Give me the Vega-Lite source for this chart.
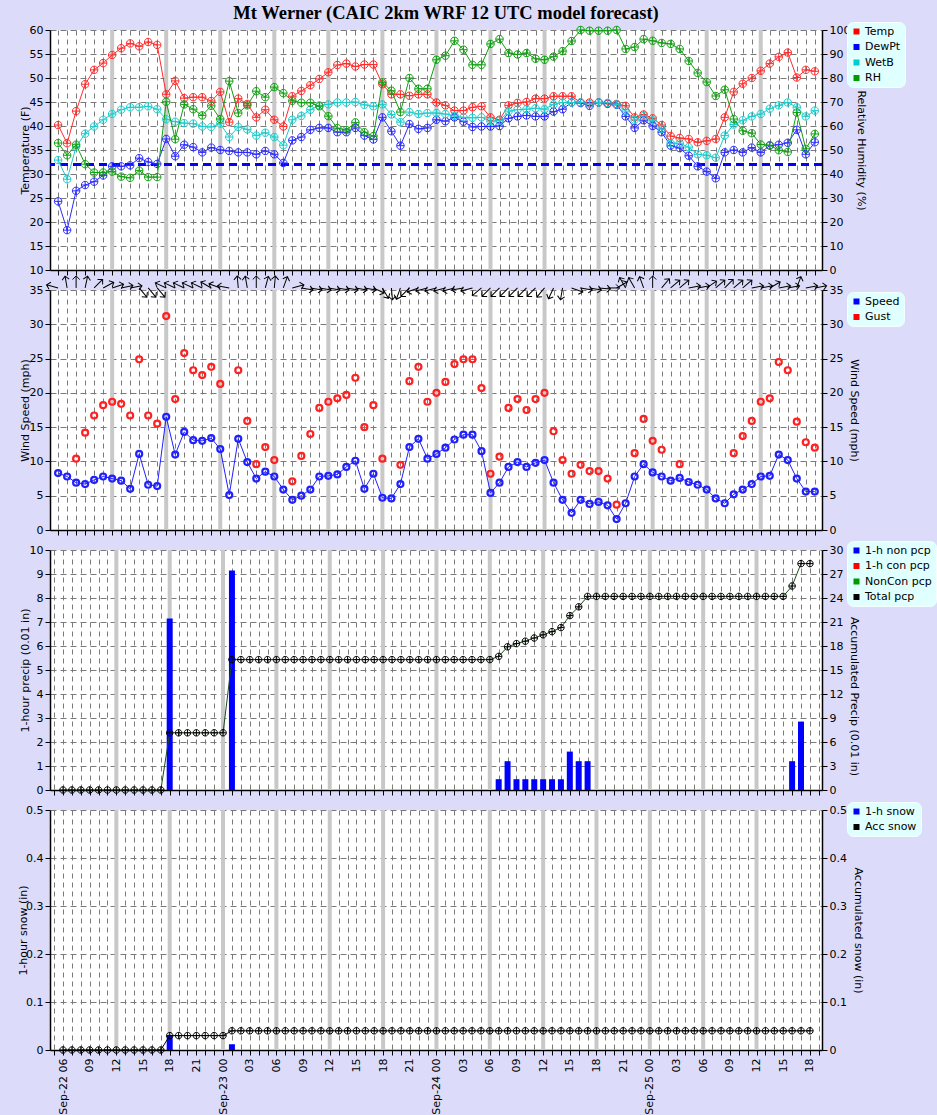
{
"$schema":"https://vega.github.io/schema/vega-lite/v6.json",
"background":"#dcdcfa",
"autosize":{"type":"none"},
"padding":{"left":50,"top":30,"right":887,"bottom":1085},
"bounds":"flush",
"spacing":20,
"resolve":{"scale":{"color":"independent"},"legend":{"color":"independent"}},
"config":{
 "font":"DejaVu Sans",
 "view":{"fill":"#ffffff","stroke":null},
 "axis":{"labelFontSize":11,"titleFontSize":11,"titleFontWeight":"normal","labelColor":"#000000","titleColor":"#000000","domainColor":"#000000","tickColor":"#000000","domainWidth":1.5,"tickWidth":1,"tickSize":5,"labelPadding":2,"gridColor":"#7a7a7a","gridDash":[6,4]},
 "legend":{"labelFontSize":11,"labelFont":"DejaVu Sans","labelColor":"#000000","symbolSize":36,"symbolType":"square","padding":4,"rowPadding":3.5,"fillColor":"#e0ffff","strokeColor":"#f4ffff","cornerRadius":6,"labelOffset":3,"orient":"none","legendX":797}
},
"datasets":{
"sixes":[{"h":6},{"h":12},{"h":18},{"h":24},{"h":30},{"h":36},{"h":42},{"h":48},{"h":54},{"h":60},{"h":66},{"h":72},{"h":78}],
"met":[
{"h":0,"Temp":40.2,"DewPt":24.3,"WetB":32.9,"RH":52.9},
{"h":1,"Temp":36.4,"DewPt":18.3,"WetB":28.9,"RH":47.8},
{"h":2,"Temp":43.1,"DewPt":26.5,"WetB":35.7,"RH":52.2},
{"h":3,"Temp":48.7,"DewPt":27.7,"WetB":38.4,"RH":44.1},
{"h":4,"Temp":51.7,"DewPt":28.4,"WetB":39.9,"RH":40.6},
{"h":5,"Temp":53.1,"DewPt":29.7,"WetB":41.3,"RH":40.6},
{"h":6,"Temp":54.8,"DewPt":31.6,"WetB":42.5,"RH":41.0},
{"h":7,"Temp":56.2,"DewPt":31.6,"WetB":43.4,"RH":38.9},
{"h":8,"Temp":57.2,"DewPt":31.8,"WetB":43.9,"RH":38.4},
{"h":9,"Temp":56.6,"DewPt":33.3,"WetB":43.9,"RH":41.4},
{"h":10,"Temp":57.5,"DewPt":32.5,"WetB":44.1,"RH":38.7},
{"h":11,"Temp":56.9,"DewPt":32.1,"WetB":43.5,"RH":38.7},
{"h":12,"Temp":46.6,"DewPt":37.3,"WetB":41.4,"RH":70.1},
{"h":13,"Temp":49.4,"DewPt":33.7,"WetB":40.9,"RH":54.5},
{"h":14,"Temp":45.8,"DewPt":36.1,"WetB":40.6,"RH":69.0},
{"h":15,"Temp":46.0,"DewPt":35.6,"WetB":40.5,"RH":67.0},
{"h":16,"Temp":46.0,"DewPt":34.5,"WetB":39.9,"RH":64.4},
{"h":17,"Temp":45.2,"DewPt":35.5,"WetB":39.8,"RH":68.4},
{"h":18,"Temp":47.1,"DewPt":35.0,"WetB":40.5,"RH":62.9},
{"h":19,"Temp":40.8,"DewPt":34.8,"WetB":37.7,"RH":78.7},
{"h":20,"Temp":45.7,"DewPt":34.5,"WetB":39.8,"RH":65.4},
{"h":21,"Temp":44.6,"DewPt":34.5,"WetB":39.3,"RH":68.6},
{"h":22,"Temp":41.8,"DewPt":34.1,"WetB":38.0,"RH":74.5},
{"h":23,"Temp":43.4,"DewPt":34.8,"WetB":38.6,"RH":72.0},
{"h":24,"Temp":41.3,"DewPt":34.1,"WetB":37.7,"RH":76.2},
{"h":25,"Temp":39.9,"DewPt":32.3,"WetB":36.0,"RH":73.7},
{"h":26,"Temp":46.2,"DewPt":37.0,"WetB":41.3,"RH":70.5},
{"h":27,"Temp":47.3,"DewPt":37.7,"WetB":42.1,"RH":69.7},
{"h":28,"Temp":48.5,"DewPt":39.2,"WetB":43.4,"RH":69.7},
{"h":29,"Temp":49.8,"DewPt":39.6,"WetB":44.3,"RH":68.2},
{"h":30,"Temp":51.2,"DewPt":39.6,"WetB":44.5,"RH":64.1},
{"h":31,"Temp":52.7,"DewPt":38.7,"WetB":44.9,"RH":59.1},
{"h":32,"Temp":53.0,"DewPt":38.7,"WetB":44.9,"RH":58.3},
{"h":33,"Temp":52.4,"DewPt":39.6,"WetB":45.0,"RH":61.5},
{"h":34,"Temp":52.8,"DewPt":38.0,"WetB":44.4,"RH":57.4},
{"h":35,"Temp":52.8,"DewPt":37.2,"WetB":44.1,"RH":55.8},
{"h":36,"Temp":48.7,"DewPt":41.8,"WetB":44.5,"RH":78.2},
{"h":37,"Temp":46.6,"DewPt":38.9,"WetB":42.4,"RH":74.7},
{"h":38,"Temp":46.6,"DewPt":35.9,"WetB":40.8,"RH":65.8},
{"h":39,"Temp":46.3,"DewPt":40.4,"WetB":42.9,"RH":80.0},
{"h":40,"Temp":46.6,"DewPt":39.4,"WetB":42.5,"RH":75.5},
{"h":41,"Temp":46.6,"DewPt":39.6,"WetB":42.7,"RH":75.5},
{"h":42,"Temp":44.9,"DewPt":41.3,"WetB":42.7,"RH":87.6},
{"h":43,"Temp":44.3,"DewPt":41.0,"WetB":42.5,"RH":89.3},
{"h":44,"Temp":43.2,"DewPt":41.8,"WetB":42.1,"RH":95.5},
{"h":45,"Temp":43.2,"DewPt":40.9,"WetB":41.8,"RH":91.8},
{"h":46,"Temp":43.9,"DewPt":39.8,"WetB":41.7,"RH":85.5},
{"h":47,"Temp":44.1,"DewPt":39.9,"WetB":41.8,"RH":85.5},
{"h":48,"Temp":41.8,"DewPt":39.9,"WetB":41.0,"RH":94.2},
{"h":49,"Temp":41.3,"DewPt":40.0,"WetB":41.1,"RH":96.2},
{"h":50,"Temp":44.3,"DewPt":41.6,"WetB":43.1,"RH":90.4},
{"h":51,"Temp":44.8,"DewPt":42.0,"WetB":43.4,"RH":89.8},
{"h":52,"Temp":45.0,"DewPt":42.2,"WetB":43.5,"RH":90.4},
{"h":53,"Temp":45.7,"DewPt":42.0,"WetB":43.7,"RH":88.0},
{"h":54,"Temp":45.7,"DewPt":42.0,"WetB":43.5,"RH":87.6},
{"h":55,"Temp":46.2,"DewPt":43.0,"WetB":44.5,"RH":88.9},
{"h":56,"Temp":46.2,"DewPt":43.5,"WetB":44.9,"RH":91.2},
{"h":57,"Temp":46.2,"DewPt":44.9,"WetB":44.9,"RH":95.4},
{"h":58,"Temp":44.9,"DewPt":44.8,"WetB":44.9,"RH":100},
{"h":59,"Temp":44.9,"DewPt":44.2,"WetB":44.6,"RH":99.7},
{"h":60,"Temp":44.9,"DewPt":44.9,"WetB":44.9,"RH":99.7},
{"h":61,"Temp":44.6,"DewPt":44.7,"WetB":44.8,"RH":99.7},
{"h":62,"Temp":44.6,"DewPt":44.4,"WetB":44.5,"RH":100},
{"h":63,"Temp":44.2,"DewPt":42.0,"WetB":43.1,"RH":92.1},
{"h":64,"Temp":41.8,"DewPt":39.6,"WetB":41.3,"RH":92.9},
{"h":65,"Temp":42.4,"DewPt":41.2,"WetB":42.1,"RH":96.2},
{"h":66,"Temp":41.6,"DewPt":40.0,"WetB":41.2,"RH":95.5},
{"h":67,"Temp":40.2,"DewPt":38.7,"WetB":39.4,"RH":94.6},
{"h":68,"Temp":37.9,"DewPt":35.9,"WetB":36.4,"RH":94.2},
{"h":69,"Temp":37.5,"DewPt":35.4,"WetB":36.4,"RH":92.1},
{"h":70,"Temp":37.3,"DewPt":33.8,"WetB":35.6,"RH":87.1},
{"h":71,"Temp":36.6,"DewPt":31.6,"WetB":34.1,"RH":82.1},
{"h":72,"Temp":36.9,"DewPt":30.5,"WetB":33.9,"RH":78.3},
{"h":73,"Temp":37.3,"DewPt":29.1,"WetB":33.4,"RH":72.5},
{"h":74,"Temp":41.8,"DewPt":34.5,"WetB":38.0,"RH":75.1},
{"h":75,"Temp":47.1,"DewPt":35.0,"WetB":40.3,"RH":62.9},
{"h":76,"Temp":48.8,"DewPt":34.5,"WetB":41.2,"RH":58.0},
{"h":77,"Temp":50.0,"DewPt":35.5,"WetB":42.0,"RH":57.0},
{"h":78,"Temp":51.5,"DewPt":34.5,"WetB":42.5,"RH":52.3},
{"h":79,"Temp":53.0,"DewPt":35.9,"WetB":43.6,"RH":52.0},
{"h":80,"Temp":54.4,"DewPt":36.1,"WetB":44.3,"RH":49.9},
{"h":81,"Temp":55.3,"DewPt":36.5,"WetB":44.9,"RH":49.2},
{"h":82,"Temp":50.1,"DewPt":39.2,"WetB":43.9,"RH":65.6},
{"h":83,"Temp":51.7,"DewPt":34.1,"WetB":42.0,"RH":50.5},
{"h":84,"Temp":51.4,"DewPt":36.6,"WetB":43.2,"RH":56.7}],
"wind":[
{"h":0,"Speed":8.3,"Gust":null,"Dir":285},
{"h":1,"Speed":7.8,"Gust":null,"Dir":350},
{"h":2,"Speed":6.9,"Gust":10.4,"Dir":0},
{"h":3,"Speed":6.7,"Gust":14.2,"Dir":12},
{"h":4,"Speed":7.3,"Gust":16.7,"Dir":45},
{"h":5,"Speed":7.8,"Gust":18.2,"Dir":62},
{"h":6,"Speed":7.5,"Gust":18.7,"Dir":72},
{"h":7,"Speed":7.2,"Gust":18.4,"Dir":78},
{"h":8,"Speed":6.0,"Gust":16.7,"Dir":80},
{"h":9,"Speed":11.1,"Gust":24.9,"Dir":140},
{"h":10,"Speed":6.6,"Gust":16.7,"Dir":140},
{"h":11,"Speed":6.4,"Gust":15.5,"Dir":140},
{"h":12,"Speed":16.5,"Gust":31.2,"Dir":295},
{"h":13,"Speed":11.0,"Gust":19.1,"Dir":295},
{"h":14,"Speed":14.3,"Gust":25.8,"Dir":295},
{"h":15,"Speed":13.1,"Gust":23.3,"Dir":295},
{"h":16,"Speed":13.0,"Gust":22.6,"Dir":295},
{"h":17,"Speed":13.4,"Gust":23.8,"Dir":300},
{"h":18,"Speed":11.8,"Gust":21.3,"Dir":290},
{"h":19,"Speed":5.1,"Gust":null,"Dir":280},
{"h":20,"Speed":13.3,"Gust":23.3,"Dir":355},
{"h":21,"Speed":9.9,"Gust":15.9,"Dir":350},
{"h":22,"Speed":7.5,"Gust":9.6,"Dir":0},
{"h":23,"Speed":8.5,"Gust":12.1,"Dir":15},
{"h":24,"Speed":7.8,"Gust":10.2,"Dir":5},
{"h":25,"Speed":5.9,"Gust":null,"Dir":20},
{"h":26,"Speed":4.4,"Gust":7.1,"Dir":75},
{"h":27,"Speed":5.0,"Gust":10.8,"Dir":100},
{"h":28,"Speed":5.9,"Gust":14.0,"Dir":100},
{"h":29,"Speed":7.8,"Gust":17.8,"Dir":100},
{"h":30,"Speed":7.9,"Gust":18.7,"Dir":100},
{"h":31,"Speed":8.1,"Gust":19.2,"Dir":100},
{"h":32,"Speed":9.2,"Gust":19.7,"Dir":100},
{"h":33,"Speed":10.1,"Gust":22.2,"Dir":100},
{"h":34,"Speed":6.0,"Gust":15.0,"Dir":100},
{"h":35,"Speed":8.2,"Gust":18.2,"Dir":115},
{"h":36,"Speed":4.7,"Gust":10.4,"Dir":150},
{"h":37,"Speed":4.6,"Gust":null,"Dir":175},
{"h":38,"Speed":6.7,"Gust":9.5,"Dir":200},
{"h":39,"Speed":12.1,"Gust":21.7,"Dir":225},
{"h":40,"Speed":13.3,"Gust":23.8,"Dir":250},
{"h":41,"Speed":10.4,"Gust":18.7,"Dir":255},
{"h":42,"Speed":11.1,"Gust":20.0,"Dir":255},
{"h":43,"Speed":12.0,"Gust":21.6,"Dir":255},
{"h":44,"Speed":13.2,"Gust":24.2,"Dir":255},
{"h":45,"Speed":13.9,"Gust":24.9,"Dir":260},
{"h":46,"Speed":13.9,"Gust":24.9,"Dir":255},
{"h":47,"Speed":11.5,"Gust":20.7,"Dir":230},
{"h":48,"Speed":5.4,"Gust":8.2,"Dir":225},
{"h":49,"Speed":6.9,"Gust":10.7,"Dir":225},
{"h":50,"Speed":9.2,"Gust":17.8,"Dir":225},
{"h":51,"Speed":9.9,"Gust":19.1,"Dir":225},
{"h":52,"Speed":9.2,"Gust":17.5,"Dir":225},
{"h":53,"Speed":9.8,"Gust":19.1,"Dir":225},
{"h":54,"Speed":10.2,"Gust":20.0,"Dir":220},
{"h":55,"Speed":6.9,"Gust":14.4,"Dir":205},
{"h":56,"Speed":4.4,"Gust":10.2,"Dir":190},
{"h":57,"Speed":2.5,"Gust":8.2,"Dir":110},
{"h":58,"Speed":4.4,"Gust":9.5,"Dir":100},
{"h":59,"Speed":3.8,"Gust":8.6,"Dir":100},
{"h":60,"Speed":4.1,"Gust":8.6,"Dir":95},
{"h":61,"Speed":3.6,"Gust":7.5,"Dir":90},
{"h":62,"Speed":1.6,"Gust":3.7,"Dir":60},
{"h":63,"Speed":3.9,"Gust":null,"Dir":330},
{"h":64,"Speed":7.8,"Gust":11.2,"Dir":330},
{"h":65,"Speed":9.6,"Gust":16.2,"Dir":340},
{"h":66,"Speed":8.4,"Gust":13.0,"Dir":0},
{"h":67,"Speed":7.8,"Gust":11.7,"Dir":40},
{"h":68,"Speed":7.2,"Gust":null,"Dir":50},
{"h":69,"Speed":7.6,"Gust":9.6,"Dir":50},
{"h":70,"Speed":7.0,"Gust":null,"Dir":80},
{"h":71,"Speed":6.6,"Gust":null,"Dir":80},
{"h":72,"Speed":5.9,"Gust":null,"Dir":55},
{"h":73,"Speed":4.6,"Gust":null,"Dir":50},
{"h":74,"Speed":3.9,"Gust":null,"Dir":45},
{"h":75,"Speed":5.2,"Gust":11.2,"Dir":50},
{"h":76,"Speed":5.9,"Gust":13.7,"Dir":50},
{"h":77,"Speed":6.7,"Gust":15.9,"Dir":80},
{"h":78,"Speed":7.8,"Gust":18.7,"Dir":80},
{"h":79,"Speed":7.9,"Gust":19.2,"Dir":60},
{"h":80,"Speed":11.0,"Gust":24.5,"Dir":80},
{"h":81,"Speed":10.2,"Gust":23.3,"Dir":80},
{"h":82,"Speed":7.5,"Gust":15.8,"Dir":20},
{"h":83,"Speed":5.6,"Gust":12.8,"Dir":80},
{"h":84,"Speed":5.6,"Gust":12.0,"Dir":80}],
"pcp":[
{"h":0,"non":0,"acc":0,"snow":0,"accsnow":0},
{"h":1,"non":0,"acc":0,"snow":0,"accsnow":0},
{"h":2,"non":0,"acc":0,"snow":0,"accsnow":0},
{"h":3,"non":0,"acc":0,"snow":0,"accsnow":0},
{"h":4,"non":0,"acc":0,"snow":0,"accsnow":0},
{"h":5,"non":0,"acc":0,"snow":0,"accsnow":0},
{"h":6,"non":0,"acc":0,"snow":0,"accsnow":0},
{"h":7,"non":0,"acc":0,"snow":0,"accsnow":0},
{"h":8,"non":0,"acc":0,"snow":0,"accsnow":0},
{"h":9,"non":0,"acc":0,"snow":0,"accsnow":0},
{"h":10,"non":0,"acc":0,"snow":0,"accsnow":0},
{"h":11,"non":0,"acc":0,"snow":0,"accsnow":0},
{"h":12,"non":7.15,"acc":7.15,"snow":0.03,"accsnow":0.03},
{"h":13,"non":0,"acc":7.15,"snow":0,"accsnow":0.03},
{"h":14,"non":0,"acc":7.15,"snow":0,"accsnow":0.03},
{"h":15,"non":0,"acc":7.15,"snow":0,"accsnow":0.03},
{"h":16,"non":0,"acc":7.15,"snow":0,"accsnow":0.03},
{"h":17,"non":0,"acc":7.15,"snow":0,"accsnow":0.03},
{"h":18,"non":0,"acc":7.15,"snow":0,"accsnow":0.03},
{"h":19,"non":9.15,"acc":16.3,"snow":0.012,"accsnow":0.04},
{"h":20,"non":0,"acc":16.3,"snow":0,"accsnow":0.04},
{"h":21,"non":0,"acc":16.3,"snow":0,"accsnow":0.04},
{"h":22,"non":0,"acc":16.3,"snow":0,"accsnow":0.04},
{"h":23,"non":0,"acc":16.3,"snow":0,"accsnow":0.04},
{"h":24,"non":0,"acc":16.3,"snow":0,"accsnow":0.04},
{"h":25,"non":0,"acc":16.3,"snow":0,"accsnow":0.04},
{"h":26,"non":0,"acc":16.3,"snow":0,"accsnow":0.04},
{"h":27,"non":0,"acc":16.3,"snow":0,"accsnow":0.04},
{"h":28,"non":0,"acc":16.3,"snow":0,"accsnow":0.04},
{"h":29,"non":0,"acc":16.3,"snow":0,"accsnow":0.04},
{"h":30,"non":0,"acc":16.3,"snow":0,"accsnow":0.04},
{"h":31,"non":0,"acc":16.3,"snow":0,"accsnow":0.04},
{"h":32,"non":0,"acc":16.3,"snow":0,"accsnow":0.04},
{"h":33,"non":0,"acc":16.3,"snow":0,"accsnow":0.04},
{"h":34,"non":0,"acc":16.3,"snow":0,"accsnow":0.04},
{"h":35,"non":0,"acc":16.3,"snow":0,"accsnow":0.04},
{"h":36,"non":0,"acc":16.3,"snow":0,"accsnow":0.04},
{"h":37,"non":0,"acc":16.3,"snow":0,"accsnow":0.04},
{"h":38,"non":0,"acc":16.3,"snow":0,"accsnow":0.04},
{"h":39,"non":0,"acc":16.3,"snow":0,"accsnow":0.04},
{"h":40,"non":0,"acc":16.3,"snow":0,"accsnow":0.04},
{"h":41,"non":0,"acc":16.3,"snow":0,"accsnow":0.04},
{"h":42,"non":0,"acc":16.3,"snow":0,"accsnow":0.04},
{"h":43,"non":0,"acc":16.3,"snow":0,"accsnow":0.04},
{"h":44,"non":0,"acc":16.3,"snow":0,"accsnow":0.04},
{"h":45,"non":0,"acc":16.3,"snow":0,"accsnow":0.04},
{"h":46,"non":0,"acc":16.3,"snow":0,"accsnow":0.04},
{"h":47,"non":0,"acc":16.3,"snow":0,"accsnow":0.04},
{"h":48,"non":0,"acc":16.3,"snow":0,"accsnow":0.04},
{"h":49,"non":0.45,"acc":16.7,"snow":0,"accsnow":0.04},
{"h":50,"non":1.2,"acc":17.9,"snow":0,"accsnow":0.04},
{"h":51,"non":0.45,"acc":18.3,"snow":0,"accsnow":0.04},
{"h":52,"non":0.45,"acc":18.6,"snow":0,"accsnow":0.04},
{"h":53,"non":0.45,"acc":19.0,"snow":0,"accsnow":0.04},
{"h":54,"non":0.45,"acc":19.4,"snow":0,"accsnow":0.04},
{"h":55,"non":0.45,"acc":19.8,"snow":0,"accsnow":0.04},
{"h":56,"non":0.45,"acc":20.3,"snow":0,"accsnow":0.04},
{"h":57,"non":1.6,"acc":21.8,"snow":0,"accsnow":0.04},
{"h":58,"non":1.2,"acc":22.9,"snow":0,"accsnow":0.04},
{"h":59,"non":1.2,"acc":24.2,"snow":0,"accsnow":0.04},
{"h":60,"non":0,"acc":24.2,"snow":0,"accsnow":0.04},
{"h":61,"non":0,"acc":24.2,"snow":0,"accsnow":0.04},
{"h":62,"non":0,"acc":24.2,"snow":0,"accsnow":0.04},
{"h":63,"non":0,"acc":24.2,"snow":0,"accsnow":0.04},
{"h":64,"non":0,"acc":24.2,"snow":0,"accsnow":0.04},
{"h":65,"non":0,"acc":24.2,"snow":0,"accsnow":0.04},
{"h":66,"non":0,"acc":24.2,"snow":0,"accsnow":0.04},
{"h":67,"non":0,"acc":24.2,"snow":0,"accsnow":0.04},
{"h":68,"non":0,"acc":24.2,"snow":0,"accsnow":0.04},
{"h":69,"non":0,"acc":24.2,"snow":0,"accsnow":0.04},
{"h":70,"non":0,"acc":24.2,"snow":0,"accsnow":0.04},
{"h":71,"non":0,"acc":24.2,"snow":0,"accsnow":0.04},
{"h":72,"non":0,"acc":24.2,"snow":0,"accsnow":0.04},
{"h":73,"non":0,"acc":24.2,"snow":0,"accsnow":0.04},
{"h":74,"non":0,"acc":24.2,"snow":0,"accsnow":0.04},
{"h":75,"non":0,"acc":24.2,"snow":0,"accsnow":0.04},
{"h":76,"non":0,"acc":24.2,"snow":0,"accsnow":0.04},
{"h":77,"non":0,"acc":24.2,"snow":0,"accsnow":0.04},
{"h":78,"non":0,"acc":24.2,"snow":0,"accsnow":0.04},
{"h":79,"non":0,"acc":24.2,"snow":0,"accsnow":0.04},
{"h":80,"non":0,"acc":24.2,"snow":0,"accsnow":0.04},
{"h":81,"non":0,"acc":24.2,"snow":0,"accsnow":0.04},
{"h":82,"non":1.2,"acc":25.5,"snow":0,"accsnow":0.04},
{"h":83,"non":2.85,"acc":28.3,"snow":0,"accsnow":0.04},
{"h":84,"non":0,"acc":28.3,"snow":0,"accsnow":0.04}]
},
"vconcat":[
{
 "width":772,"height":240,
 "title":{"text":"Mt Werner (CAIC 2km WRF 12 UTC model forecast)","font":"Liberation Serif","fontSize":18.5,"fontWeight":"bold","color":"#000000","anchor":"middle","frame":"group","offset":-1,"dx":10},
 "resolve":{"scale":{"y":"independent"}},
 "layer":[
  {"data":{"name":"sixes"},"mark":{"type":"rule","color":"#c8c8c8","strokeWidth":4},
   "encoding":{"x":{"field":"h","type":"quantitative","scale":{"domain":[-0.9,84.8],"nice":false,"zero":false},"axis":{"tickCount":85,"labels":false,"title":null,"grid":true,"gridDash":[5,4]}}}},
  {"data":{"name":"met"},"mark":{"type":"rule","color":"#0000ff","strokeWidth":2.5,"strokeDash":[8,5]},
   "encoding":{"y":{"datum":32,"type":"quantitative","scale":{"domain":[10,60],"nice":false,"zero":false},"axis":null}}},
  {"data":{"name":"met"},"transform":[{"fold":["Temp","DewPt","WetB"],"as":["series","val"]}],
   "mark":{"type":"line","strokeWidth":1,"point":{"shape":"M-1,0A1,1,0,1,1,1,0A1,1,0,1,1,-1,0ZM-1,0L1,0M0,-1L0,1","filled":false,"size":56,"strokeWidth":1}},
   "encoding":{
    "x":{"field":"h","type":"quantitative","scale":{"domain":[-0.9,84.8],"nice":false,"zero":false}},
    "y":{"field":"val","type":"quantitative","scale":{"domain":[10,60],"nice":false,"zero":false},"axis":{"title":"Temperature (F)","values":[10,15,20,25,30,35,40,45,50,55,60],"grid":true,"titleX":-25,"titleY":120,"titleAlign":"center","titleBaseline":"middle","titleAngle":270}},
    "color":{"field":"series","type":"nominal","scale":{"domain":["Temp","DewPt","WetB","RH"],"range":["#ff2a2a","#2a2aff","#1ccccc","#10a010"]},
      "legend":{"title":null,"legendX":797,"legendY":-8,"encode":{"symbols":{"update":{"fill":{"signal":"datum.value==='Temp'?'#ff0000':datum.value==='DewPt'?'#0000ff':datum.value==='WetB'?'#00cccc':'#009900'"},"strokeWidth":{"value":0},"shape":{"value":"square"},"size":{"value":36},"opacity":{"value":1}}}}}},
    "order":{"field":"h","type":"quantitative"}}},
  {"data":{"name":"met"},
   "mark":{"type":"line","strokeWidth":1,"point":{"shape":"M-1,0A1,1,0,1,1,1,0A1,1,0,1,1,-1,0ZM-1,0L1,0M0,-1L0,1","filled":false,"size":56,"strokeWidth":1}},
   "encoding":{
    "x":{"field":"h","type":"quantitative","scale":{"domain":[-0.9,84.8],"nice":false,"zero":false}},
    "y":{"field":"RH","type":"quantitative","scale":{"domain":[0,100],"nice":false},"axis":{"title":"Relative Humidity (%)","orient":"right","values":[0,10,20,30,40,50,60,70,80,90,100],"grid":false,"titlePadding":6}},
    "color":{"datum":"RH"}}}
 ]
},
{
 "width":772,"height":240,
 "resolve":{"scale":{"y":"independent"}},
 "layer":[
  {"data":{"name":"sixes"},"mark":{"type":"rule","color":"#c8c8c8","strokeWidth":4},
   "encoding":{"x":{"field":"h","type":"quantitative","scale":{"domain":[-0.9,84.8],"nice":false,"zero":false},"axis":{"tickCount":85,"labels":false,"title":null,"grid":true,"gridDash":[5,4]}}}},
  {"data":{"name":"wind"},"mark":{"type":"point","shape":"M0,0L0,-1M-0.3,-0.7L0,-1L0.3,-0.7","filled":false,"size":576,"strokeWidth":1,"color":"#000000","opacity":1},
   "encoding":{
    "x":{"field":"h","type":"quantitative","scale":{"domain":[-0.9,84.8],"nice":false,"zero":false}},
    "y":{"datum":35.3,"type":"quantitative","scale":{"domain":[0,35],"nice":false},"axis":null},
    "angle":{"field":"Dir","type":"quantitative","scale":null}}},
  {"data":{"name":"wind"},
   "mark":{"type":"line","strokeWidth":1,"point":{"shape":"circle","filled":false,"size":36,"strokeWidth":2.2}},
   "encoding":{
    "x":{"field":"h","type":"quantitative","scale":{"domain":[-0.9,84.8],"nice":false,"zero":false}},
    "y":{"field":"Speed","type":"quantitative","scale":{"domain":[0,35],"nice":false},"axis":{"title":"Wind Speed (mph)","values":[0,5,10,15,20,25,30,35],"grid":true,"titleX":-25,"titleY":120,"titleAlign":"center","titleBaseline":"middle","titleAngle":270}},
    "color":{"datum":"Speed","scale":{"domain":["Speed","Gust"],"range":["#2020ff","#ff2020"]},
      "legend":{"title":null,"legendX":797,"legendY":2,"encode":{"symbols":{"update":{"fill":{"signal":"datum.value==='Speed'?'#0000ff':'#ff0000'"},"strokeWidth":{"value":0},"shape":{"value":"square"},"size":{"value":36},"opacity":{"value":1}}}}}}}},
  {"data":{"name":"wind"},
   "mark":{"type":"point","shape":"circle","filled":false,"size":36,"strokeWidth":2.2,"opacity":1},
   "encoding":{
    "x":{"field":"h","type":"quantitative","scale":{"domain":[-0.9,84.8],"nice":false,"zero":false}},
    "y":{"field":"Gust","type":"quantitative","scale":{"domain":[0,35],"nice":false},"axis":{"title":"Wind Speed (mph)","orient":"right","values":[0,5,10,15,20,25,30,35],"grid":false,"titlePadding":6}},
    "color":{"datum":"Gust"}}}
 ]
},
{
 "width":772,"height":240,
 "resolve":{"scale":{"y":"independent"}},
 "layer":[
  {"data":{"name":"sixes"},"mark":{"type":"rule","color":"#c8c8c8","strokeWidth":4},
   "encoding":{"x":{"field":"h","type":"quantitative","scale":{"domain":[-0.9,84.8],"nice":false,"zero":false},"axis":{"tickCount":85,"labels":false,"title":null,"grid":true,"gridDash":[5,4]}}}},
  {"data":{"name":"pcp"},"mark":{"type":"bar","size":6},
   "encoding":{
    "x":{"field":"h","type":"quantitative","scale":{"domain":[-0.9,84.8],"nice":false,"zero":false}},
    "y":{"field":"non","type":"quantitative","scale":{"domain":[0,10],"nice":false},"axis":{"title":"1-hour precip (0.01 in)","values":[0,1,2,3,4,5,6,7,8,9,10],"grid":true,"titleX":-25,"titleY":120,"titleAlign":"center","titleBaseline":"middle","titleAngle":270}},
    "color":{"datum":"1-h non pcp","scale":{"domain":["1-h non pcp","1-h con pcp","NonCon pcp","Total pcp"],"range":["#0000ff","#ff0000","#009900","#000000"]},
      "legend":{"title":null,"legendX":797,"legendY":-9,"encode":{"symbols":{"update":{"fill":{"signal":"datum.value==='1-h non pcp'?'#0000ff':datum.value==='1-h con pcp'?'#ff0000':datum.value==='NonCon pcp'?'#009900':'#000000'"},"strokeWidth":{"value":0},"shape":{"value":"square"},"size":{"value":36},"opacity":{"value":1}}}}}}}},
  {"data":{"name":"pcp"},
   "mark":{"type":"line","strokeWidth":1,"color":"#1a4d1a","point":{"shape":"M-1,0A1,1,0,1,1,1,0A1,1,0,1,1,-1,0ZM-1,0L1,0M0,-1L0,1","filled":false,"size":42,"strokeWidth":1,"color":"#000000"}},
   "encoding":{
    "x":{"field":"h","type":"quantitative","scale":{"domain":[-0.9,84.8],"nice":false,"zero":false}},
    "y":{"field":"acc","type":"quantitative","scale":{"domain":[0,30],"nice":false},"axis":{"title":"Accumulated Precip (0.01 in)","orient":"right","values":[0,3,6,9,12,15,18,21,24,27,30],"grid":false,"titlePadding":6,"titleY":146}}}}
 ]
},
{
 "width":772,"height":240,
 "resolve":{"scale":{"y":"independent"}},
 "layer":[
  {"data":{"name":"sixes"},"mark":{"type":"rule","color":"#c8c8c8","strokeWidth":4},
   "encoding":{"x":{"field":"h","type":"quantitative","scale":{"domain":[-0.9,84.8],"nice":false,"zero":false},
    "axis":{"tickCount":85,"title":null,"grid":true,"gridDash":[5,4],"labelAngle":270,"labelAlign":"right","labelBaseline":"middle","labelPadding":3,"labelOverlap":false,"labelFlush":false,"labelBound":false,
     "labelExpr":"datum.value % 3 != 0 ? '' : ((datum.value == 0 || (datum.value + 6) % 24 == 0) ? 'Sep-' + (22 + floor((datum.value + 6) / 24)) + ' ' : '') + format((datum.value + 6) % 24, '02d')"}}}},
  {"data":{"name":"pcp"},"mark":{"type":"bar","size":6},
   "encoding":{
    "x":{"field":"h","type":"quantitative","scale":{"domain":[-0.9,84.8],"nice":false,"zero":false}},
    "y":{"field":"snow","type":"quantitative","scale":{"domain":[0,0.5],"nice":false},"axis":{"title":"1-hour snow (in)","values":[0,0.1,0.2,0.3,0.4,0.5],"labelExpr":"datum.value == 0 ? '0' : format(datum.value, '.1f')","grid":true,"titleX":-27,"titleY":120,"titleAlign":"center","titleBaseline":"middle","titleAngle":270}},
    "color":{"datum":"1-h snow","scale":{"domain":["1-h snow","Acc snow"],"range":["#0000ff","#000000"]},
      "legend":{"title":null,"legendX":797,"legendY":-8,"encode":{"symbols":{"update":{"fill":{"signal":"datum.value==='1-h snow'?'#0000ff':'#000000'"},"strokeWidth":{"value":0},"shape":{"value":"square"},"size":{"value":36},"opacity":{"value":1}}}}}}}},
  {"data":{"name":"pcp"},
   "mark":{"type":"line","strokeWidth":1,"color":"#000000","point":{"shape":"M-1,0A1,1,0,1,1,1,0A1,1,0,1,1,-1,0ZM-1,0L1,0M0,-1L0,1","filled":false,"size":42,"strokeWidth":1,"color":"#000000"}},
   "encoding":{
    "x":{"field":"h","type":"quantitative","scale":{"domain":[-0.9,84.8],"nice":false,"zero":false}},
    "y":{"field":"accsnow","type":"quantitative","scale":{"domain":[0,0.5],"nice":false},"axis":{"title":"Accumulated snow (in)","orient":"right","values":[0,0.1,0.2,0.3,0.4,0.5],"labelExpr":"datum.value == 0 ? '0' : format(datum.value, '.1f')","grid":false,"titlePadding":6}}}}
 ]
}
]
}
